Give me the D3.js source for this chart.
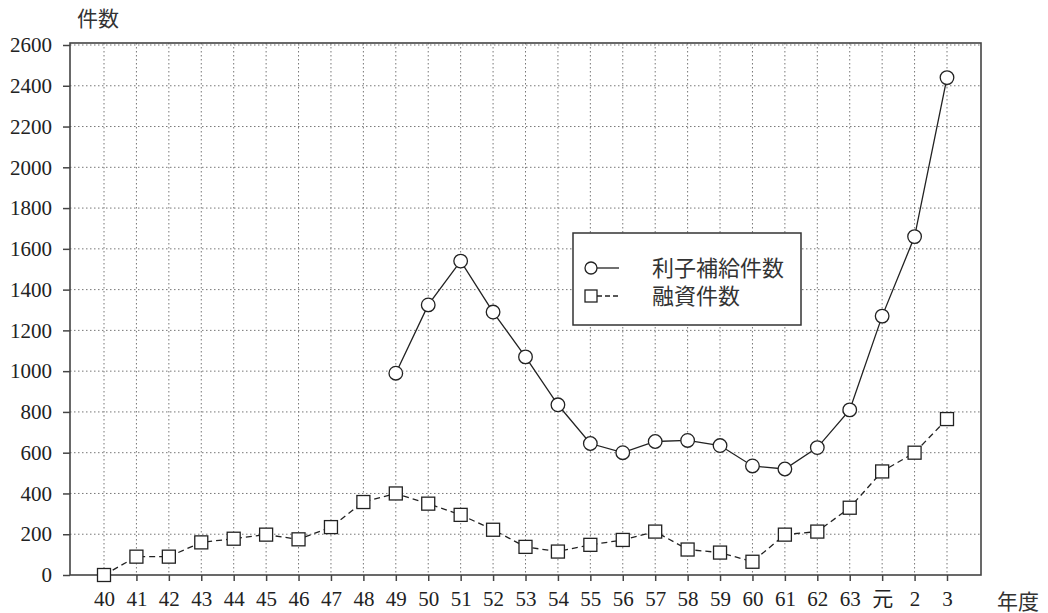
<!DOCTYPE html>
<html>
<head>
<meta charset="utf-8">
<script src="https://cdn.jsdelivr.net/npm/d3@7"></script>
<style>
  body { margin: 0; background: #fff; }
</style>
</head>
<body>
<div id="chart"></div>
<script>
// DATA
const years = ["40","41","42","43","44","45","46","47","48","49","50","51","52","53","54","55","56","57","58","59","60","61","62","63","元","2","3"]
const yTicks = [0,200,400,600,800,1000,1200,1400,1600,1800,2000,2200,2400,2600]

// 利子補給件数 (from 49)
const subsidyYears = ["49","50","51","52","53","54","55","56","57","58","59","60","61","62","63","元","2","3"]
const subsidy = [990,1325,1540,1290,1070,835,645,600,655,660,635,535,520,625,810,1270,1660,2440]

// 融資件数
const loans = [0,90,90,160,178,198,175,235,358,400,350,295,222,138,115,148,172,213,125,110,65,198,213,330,508,600,765]

const width = 1048, height = 613
const plotLeft = 70, plotRight = 981, plotTop = 43, plotBottom = 575
const serif = "'Liberation Serif', 'Times New Roman', 'DejaVu Serif', 'Noto Sans CJK JP', serif"

const svg = d3.select("#chart").append("svg")
    .attr("width", width)
    .attr("height", height)
    .style("font-family", serif)

// SCALE
const xScale = d3.scalePoint()
    .domain(years)
    .range([104, 947])

const yScale = d3.scaleLinear()
    .domain([0, 2600])
    .range([plotBottom, plotTop + 2])

// GRID
svg.append("g")
    .selectAll("line")
    .data(years)
    .join("line")
    .attr("x1", d => xScale(d)).attr("x2", d => xScale(d))
    .attr("y1", plotTop).attr("y2", plotBottom)
    .attr("stroke", "#777").attr("stroke-width", 1)
    .attr("stroke-dasharray", "1.5,2.5")

svg.append("g")
    .selectAll("line")
    .data(yTicks.slice(1))
    .join("line")
    .attr("x1", plotLeft).attr("x2", plotRight)
    .attr("y1", d => yScale(d)).attr("y2", d => yScale(d))
    .attr("stroke", "#777").attr("stroke-width", 1)
    .attr("stroke-dasharray", "1.5,2.5")

// FRAME
svg.append("rect")
    .attr("x", plotLeft).attr("y", plotTop)
    .attr("width", plotRight - plotLeft).attr("height", plotBottom - plotTop)
    .attr("fill", "none").attr("stroke", "#444").attr("stroke-width", 1.6)

// AXES
const yAxis = svg.append("g")
    .attr("transform", `translate(${plotLeft},0)`)
    .call(d3.axisLeft(yScale).tickValues(yTicks).tickSize(7).tickPadding(11).tickFormat(d3.format("d")))
yAxis.attr("font-family", null)
yAxis.select(".domain").remove()
yAxis.selectAll("line").attr("stroke", "#444").attr("stroke-width", 1.5)
yAxis.selectAll("text").attr("font-size", 21).style("font-family", serif).attr("fill", "#222")

const xAxis = svg.append("g")
    .attr("transform", `translate(0,${plotBottom})`)
    .call(d3.axisBottom(xScale).tickSize(6).tickPadding(10))
xAxis.attr("font-family", null)
xAxis.select(".domain").remove()
xAxis.selectAll("line").attr("stroke", "#444").attr("stroke-width", 1.5)
xAxis.selectAll("text").attr("font-size", 21).style("font-family", serif).attr("fill", "#222")

// axis titles
svg.append("text").attr("x", 77).attr("y", 26).attr("font-size", 21).attr("fill", "#333").text("件数")
svg.append("text").attr("x", 997).attr("y", 609).attr("font-size", 21).attr("fill", "#333").text("年度")

// LINES
const line = d3.line().x(d => xScale(d[0])).y(d => yScale(d[1]))

const loanPts = years.map((y, i) => [y, loans[i]])
const subPts = subsidyYears.map((y, i) => [y, subsidy[i]])

svg.append("path")
    .datum(loanPts)
    .attr("d", line)
    .attr("fill", "none").attr("stroke", "#222").attr("stroke-width", 1.3)
    .attr("stroke-dasharray", "6,4")

svg.append("path")
    .datum(subPts)
    .attr("d", line)
    .attr("fill", "none").attr("stroke", "#222").attr("stroke-width", 1.3)

// MARKERS
svg.append("g")
    .selectAll("rect")
    .data(loanPts)
    .join("rect")
    .attr("x", d => xScale(d[0]) - 6.5)
    .attr("y", d => yScale(d[1]) - 6.5)
    .attr("width", 13).attr("height", 13)
    .attr("fill", "#fff").attr("stroke", "#222").attr("stroke-width", 1.3)

svg.append("g")
    .selectAll("circle")
    .data(subPts)
    .join("circle")
    .attr("cx", d => xScale(d[0]))
    .attr("cy", d => yScale(d[1]))
    .attr("r", 6.8)
    .attr("fill", "#fff").attr("stroke", "#222").attr("stroke-width", 1.3)

// LEGEND
const legend = svg.append("g")
legend.append("rect")
    .attr("x", 573).attr("y", 233).attr("width", 228).attr("height", 92)
    .attr("fill", "#fff").attr("stroke", "#333").attr("stroke-width", 1.5)
legend.append("circle").attr("cx", 591).attr("cy", 268).attr("r", 6)
    .attr("fill", "#fff").attr("stroke", "#222").attr("stroke-width", 1.3)
legend.append("line").attr("x1", 597).attr("x2", 619).attr("y1", 268).attr("y2", 268)
    .attr("stroke", "#222").attr("stroke-width", 1.3)
legend.append("rect").attr("x", 585).attr("y", 290).attr("width", 12).attr("height", 12)
    .attr("fill", "#fff").attr("stroke", "#222").attr("stroke-width", 1.3)
legend.append("line").attr("x1", 597).attr("x2", 619).attr("y1", 296).attr("y2", 296)
    .attr("stroke", "#222").attr("stroke-width", 1.3).attr("stroke-dasharray", "5,3")
legend.append("text").attr("x", 652).attr("y", 276).attr("font-size", 22).attr("fill", "#333").text("利子補給件数")
legend.append("text").attr("x", 652).attr("y", 304).attr("font-size", 22).attr("fill", "#333").text("融資件数")
</script>
</body>
</html>
